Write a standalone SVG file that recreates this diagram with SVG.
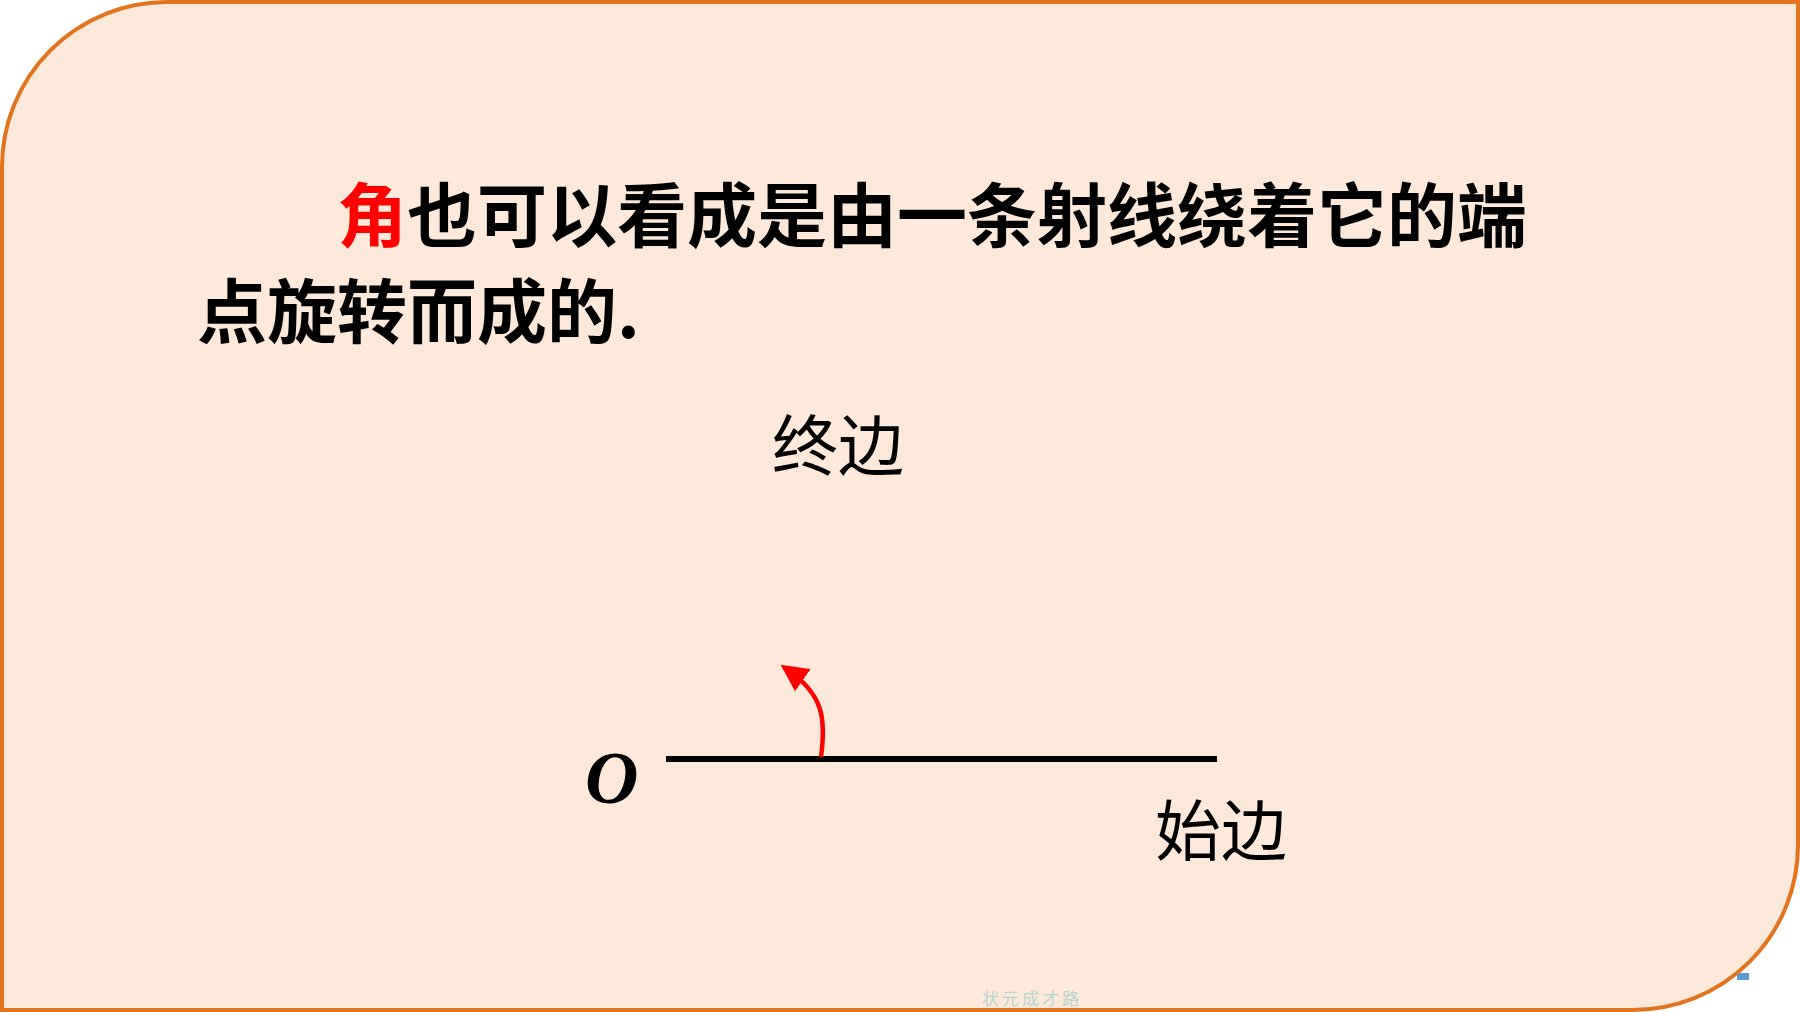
<svg xmlns="http://www.w3.org/2000/svg" width="1800" height="1012" viewBox="0 0 1800 1012">
  <defs>
    <style>
      .title { font-family: "Noto Sans CJK SC", "Noto Sans", sans-serif; font-weight: bold; font-size: 70px; fill: #000; }
      .label { font-family: "Noto Sans CJK SC", sans-serif; font-size: 66px; fill: #000; }
      .wm { font-family: "Noto Sans CJK SC", sans-serif; font-size: 17px; fill: #b9d6cf; }
    </style>
    <marker id="arrowRed" markerWidth="6" markerHeight="6" refX="4" refY="3" orient="auto" markerUnits="strokeWidth">
      <path d="M0,0 L6,3 L0,6 Z" fill="#ff0000"/>
    </marker>
  </defs>
  <rect x="0" y="0" width="1800" height="1012" fill="#ffffff"/>
  <rect x="1737" y="973" width="12" height="7" fill="#5b9bd5"/>
  <g id="background">
    <path d="M 2 167 A 165 165 0 0 1 167 2 L 1798 2 L 1798 845 A 165 165 0 0 1 1633 1010 L 2 1010 Z" fill="#fde9da" stroke="#e2741e" stroke-width="4"/>
  </g>
  <g id="watermark">
    <text class="wm" x="982" y="1005" letter-spacing="3">状元成才路</text>
  </g>
  <g id="title">
    <text class="title" x="337" y="242"><tspan fill="#ff0000">角</tspan>也可以看成是由一条射线绕着它的端</text>
    <text class="title" x="197" y="338">点旋转而成的.</text>
  </g>
  <g id="node-O">
    <text x="585" y="803" font-family="Liberation Serif, serif" font-style="italic" font-weight="bold" font-size="74" fill="#000">O</text>
  </g>
  <g id="node-terminal">
    <text class="label" x="772" y="470">终边</text>
  </g>
  <g id="node-initial">
    <text class="label" x="1155" y="855">始边</text>
  </g>
  <g id="connectors">
    <line id="ray" x1="666" y1="759" x2="1217" y2="759" stroke="#000" stroke-width="6"/>
    <path id="rotation" d="M 821 757 C 826 720, 824 695, 788 670" fill="none" stroke="#ff0000" stroke-width="4.5" marker-end="url(#arrowRed)"/>
  </g>
</svg>
